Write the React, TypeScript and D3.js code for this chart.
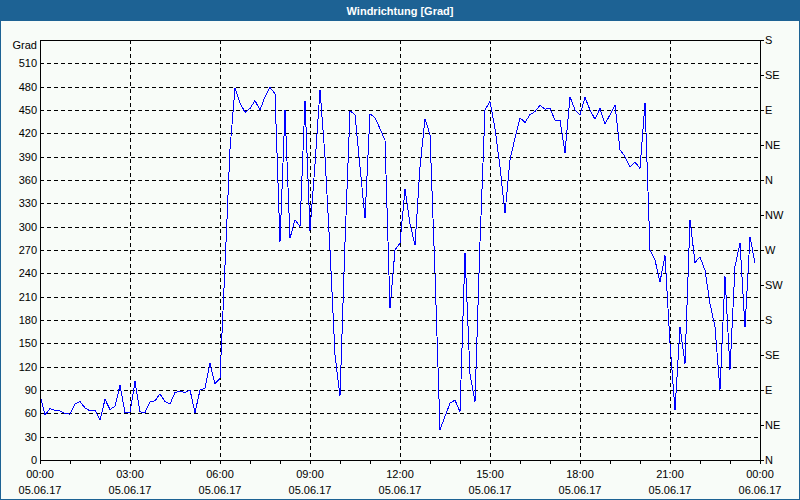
import * as d3 from "d3";

// wind direction in degrees, one reading every 10 minutes from 05.06.17 00:00
const values = [
  84, 58, 66, 64, 63, 60,
  59, 72, 75, 67, 63, 64,
  51, 78, 65, 69, 96, 61,
  61, 101, 62, 61, 75, 76,
  85, 75, 72, 87, 88, 87,
  90, 61, 90, 92, 124, 98,
  105, 250, 400, 478, 459, 447,
  452, 462, 450, 467, 479, 471,
  280, 450, 285, 309, 300, 462,
  295, 380, 476, 390, 270, 135,
  82, 280, 449, 444, 377, 311,
  445, 440, 426, 411, 195, 270,
  279, 348, 304, 276, 377, 439,
  418, 240, 39, 56, 73, 77,
  62, 266, 110, 75, 280, 450,
  461, 426, 377, 317, 386, 414,
  440, 434, 444, 448, 456, 451,
  452, 437, 437, 395, 467, 450,
  444, 466, 450, 438, 452, 432,
  444, 456, 399, 390, 377, 383,
  375, 459, 270, 257, 229, 263,
  150, 64, 171, 124, 309, 254,
  261, 244, 201, 171, 90, 236,
  116, 249, 279, 171, 287, 253,
];
const stepMinutes = 10;

const timeLabels = ["00:00", "03:00", "06:00", "09:00", "12:00", "15:00", "18:00", "21:00", "00:00"];
const dateLabels = ["05.06.17", "05.06.17", "05.06.17", "05.06.17", "05.06.17", "05.06.17", "05.06.17", "05.06.17", "06.06.17"];
const compassLabels = ["N", "NE", "E", "SE", "S", "SW", "W", "NW", "N", "NE", "E", "SE", "S"];
const title = "Windrichtung [Grad]";
const unit = "Grad";

export default function App() {
  const width = 800;
  const height = 500;
  const left = 40, right = 760, top = 40, bottom = 460;
  const font = "Tahoma, 'Liberation Sans', Arial, sans-serif";

  const x = d3.scaleLinear([0, 24 * 60], [left, right]);
  const y = d3.scaleLinear([0, 540], [bottom, top]);
  const line = d3.line<number>((_, i) => x(i * stepMinutes), (d) => y(d));

  const leftTicks = d3.range(0, 511, 30);
  const gridY = leftTicks.filter((t) => t > 0);
  const hours = d3.range(0, 25);
  const major = d3.range(0, 25, 3);
  const rightTicks = d3.range(0, 541, 45);

  return (
    <svg width={width} height={height} style={{ position: "fixed", left: 0, top: 0 }} fontFamily={font} fontSize={11}>
      <rect x={0} y={0} width={width} height={height} fill="#f8fcf8" />
      <rect x={0} y={0} width={width} height={21} fill="#1d6294" />
      <rect x={0.5} y={0.5} width={width - 1} height={height - 1} fill="none" stroke="#1d6294" strokeWidth={1} />
      <text x={width / 2} y={15} textAnchor="middle" fill="#fff" fontWeight="bold">{title}</text>

      <g stroke="#000" strokeDasharray="4,3" shapeRendering="crispEdges">
        {gridY.map((t) => (
          <line key={"gy" + t} x1={left} x2={right} y1={Math.round(y(t)) + 0.5} y2={Math.round(y(t)) + 0.5} />
        ))}
        {major.slice(1, -1).map((h) => (
          <line key={"gx" + h} x1={Math.round(x(h * 60)) + 0.5} x2={Math.round(x(h * 60)) + 0.5} y1={top} y2={bottom} />
        ))}
      </g>

      <path d={line(values) ?? ""} fill="none" stroke="#0000ff" strokeWidth={1} shapeRendering="crispEdges" />

      <rect x={left + 0.5} y={top + 0.5} width={right - left} height={bottom - top} fill="none" stroke="#000" shapeRendering="crispEdges" />

      <g stroke="#000" shapeRendering="crispEdges">
        {hours.map((h) => (
          <line key={"tx" + h} x1={Math.round(x(h * 60)) + 0.5} x2={Math.round(x(h * 60)) + 0.5} y1={bottom} y2={bottom + 4} />
        ))}
        {rightTicks.map((t) => (
          <line key={"tr" + t} x1={right} x2={right + 4} y1={Math.round(y(t)) + 0.5} y2={Math.round(y(t)) + 0.5} />
        ))}
      </g>

      <g textAnchor="end" fill="#000">
        <text x={37} y={top + 9}>{unit}</text>
        {leftTicks.map((t) => (
          <text key={"ly" + t} x={37} y={y(t) + 4}>{t}</text>
        ))}
      </g>
      <g textAnchor="start" fill="#000">
        {rightTicks.map((t, i) => (
          <text key={"ry" + t} x={765} y={y(t) + 4}>{compassLabels[i]}</text>
        ))}
      </g>
      <g textAnchor="middle" fill="#000">
        {major.map((h, i) => (
          <g key={"lx" + h}>
            <text x={x(h * 60)} y={478}>{timeLabels[i]}</text>
            <text x={x(h * 60)} y={494}>{dateLabels[i]}</text>
          </g>
        ))}
      </g>
    </svg>
  );
}
